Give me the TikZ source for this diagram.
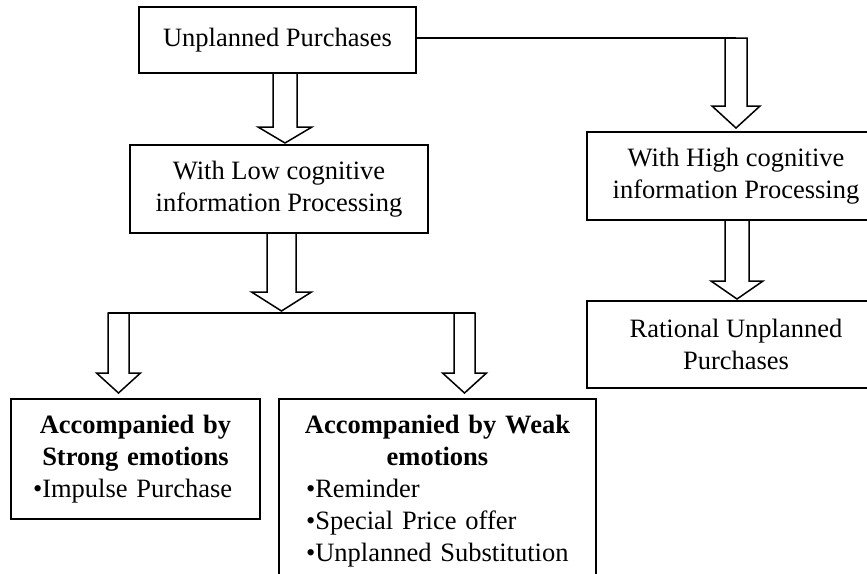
\documentclass[tikz,border=0pt]{standalone}
\usepackage{fontspec}
\setmainfont{Liberation Serif}
\usetikzlibrary{calc}
\setlength{\parindent}{0pt}
% #1 top coordinate, #2 tip coordinate, #3 shaft half width, #4 head half width, #5 head length
\newcommand\blockarr[5]{%
  \draw[barrow] let \p1=(#1), \p2=(#2) in
   (\x1-#3pt,\y1) -- (\x1-#3pt,\y2+#5pt) -- (\x1-#4pt,\y2+#5pt) -- (\x2,\y2)
   -- (\x1+#4pt,\y2+#5pt) -- (\x1+#3pt,\y2+#5pt) -- (\x1+#3pt,\y1) -- cycle;}
\begin{document}
\begin{tikzpicture}[x=1pt,y=-1pt,
  txt/.style={font=\fontsize{26.5}{32}\selectfont},
  box/.style={txt, draw, line width=1.5pt, inner sep=0pt, fill=white},
  cbox/.style={box, align=center},
  barrow/.style={draw, line width=1.5pt, fill=white, line join=miter},
  conn/.style={line width=1.5pt}]
\useasboundingbox (0,0) rectangle (867,573);
\fill[white] (0,0) rectangle (867,573);
\clip (0,0) rectangle (867,573);

% boxes
\node[cbox, minimum width=277pt, minimum height=66pt] (A) at (277.5,40) {Unplanned Purchases};
\node[cbox, minimum width=298pt, minimum height=88pt] (low) at (279,189)
  {With Low cognitive\\information Processing};
\node[cbox, minimum width=298pt, minimum height=88pt] (high) at (736,176)
  {With High cognitive\\information Processing};
\node[cbox, minimum width=298pt, minimum height=87pt] (rat) at (736,344.5)
  {Rational Unplanned\\Purchases};
\node[box, minimum width=249pt, minimum height=120pt, text width=205pt] (strong) at (135.5,459)
  {\makebox[\linewidth]{\bfseries Accompanied by}\\
   \makebox[\linewidth]{\bfseries Strong emotions}\\
   •Impulse Purchase};
\node[box, minimum width=317pt, minimum height=184pt, text width=263pt] (weak) at (437.5,491)
  {\makebox[\linewidth]{\bfseries Accompanied by Weak}\\
   \makebox[\linewidth]{\bfseries emotions}\\
   •Reminder\\
   •Special Price offer\\
   •Unplanned Substitution};

% connector coordinates
\coordinate (r1) at (736,38);
\coordinate (r1t) at (736,128);
\coordinate (a1) at (285,73);
\coordinate (a1t) at (285,143);
\coordinate (h1) at (737,220);
\coordinate (h1t) at (737,299);
\coordinate (l1) at (281.5,233);
\coordinate (l1t) at (281.5,311);
\coordinate (bl) at (108,313);
\coordinate (br) at (475,313);
\coordinate (s1) at (118.5,313);
\coordinate (s1t) at (118.5,393);
\coordinate (w1) at (464.5,313);
\coordinate (w1t) at (464.5,393);

% connectors
\draw[conn] (A.east |- r1) -- (r1);
\draw[conn] (bl) -- (br);
\blockarr{r1}{r1t}{11}{24}{22}
\blockarr{a1}{a1t}{12}{27}{16}
\blockarr{h1}{h1t}{12}{26}{18}
\blockarr{l1}{l1t}{14.5}{30}{19}
\blockarr{s1}{s1t}{10.5}{22}{20}
\blockarr{w1}{w1t}{10.5}{22}{20}
\end{tikzpicture}
\end{document}
